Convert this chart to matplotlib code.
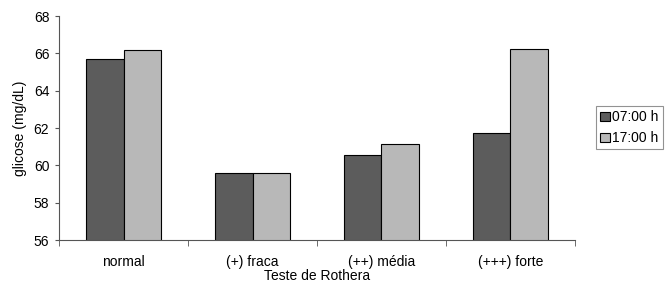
import matplotlib
matplotlib.use("Agg")
import matplotlib.pyplot as plt
import numpy as np

categorias = ["normal", "(+) fraca", "(++) média", "(+++) forte"]
manha = [65.72, 59.57, 60.57, 61.75]   # 07:00 h
tarde = [66.18, 59.57, 61.13, 66.25]   # 17:00 h
series = ["07:00 h", "17:00 h"]

plt.rcParams['font.family'] = ['Liberation Sans', 'DejaVu Sans']
plt.rcParams['font.size'] = 10

fig = plt.figure(figsize=(6.67, 2.91), dpi=100)
ax = fig.add_axes([0.0885, 0.175, 0.862 - 0.0885, 0.945 - 0.175])

x = np.arange(len(categorias))
w = 0.29
ax.bar(x - w/2, manha, width=w, color='#5c5c5c', edgecolor='black', linewidth=0.8,
       label=series[0])
ax.bar(x + w/2, tarde, width=w, color='#b8b8b8', edgecolor='black', linewidth=0.8,
       label=series[1])

ax.set_xlim(-0.5, len(categorias) - 0.5)
ax.set_ylim(56, 68)
ax.set_yticks(range(56, 69, 2))
ax.set_xticks(x)
ax.set_xticklabels(categorias)
ax.tick_params(axis='x', length=0, pad=11)
ax.set_xticks(np.arange(-0.5, len(categorias)), minor=True)
ax.tick_params(axis='x', which='minor', length=4, color='#555555')
ax.tick_params(axis='y', length=3, color='#555555', pad=4)

for s in ['top', 'right']:
    ax.spines[s].set_visible(False)
for s in ['left', 'bottom']:
    ax.spines[s].set_color('#555555')
    ax.spines[s].set_linewidth(0.8)

ax.set_xlabel("Teste de Rothera", labelpad=0)
ax.set_ylabel("glicose (mg/dL)", labelpad=5)

leg = fig.legend(loc='upper left', bbox_to_anchor=(0.893, 0.635), frameon=True,
                 fancybox=False, edgecolor='#777777', handlelength=0.7,
                 handleheight=0.7, handletextpad=0.2, borderpad=0.3,
                 borderaxespad=0, labelspacing=0.5, fontsize=10)
leg.get_frame().set_linewidth(0.8)

fig.savefig("out.png", dpi=100)
